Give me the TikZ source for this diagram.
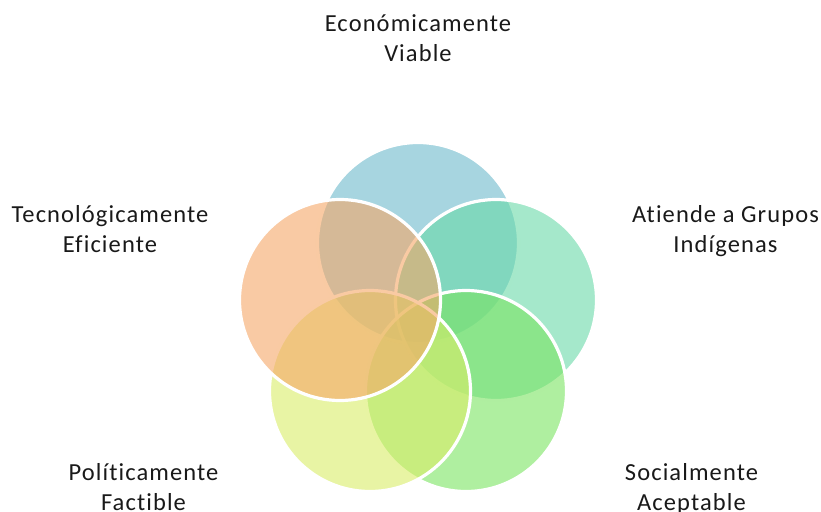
\documentclass[tikz,border=0pt]{standalone}
\usepackage{fontspec}
\setmainfont{Carlito}
\newfontfamily\lblfont[LetterSpace=4.5,Ligatures={NoCommon}]{Carlito}
\definecolor{cblue}{RGB}{108,185,203}
\definecolor{cteal}{RGB}{105,217,168}
\definecolor{cgreen}{RGB}{122,228,97}
\definecolor{cyellow}{RGB}{217,237,103}
\definecolor{corange}{RGB}{245,167,103}
\tikzset{
  venn/.style={circle, draw=white, line width=3.2pt, minimum size=201pt, inner sep=0pt, fill opacity=0.6, text opacity=1},
  lbl/.style={align=center, anchor=base, inner sep=0pt, font=\lblfont\fontsize{24.5}{29.5}\selectfont, text=black!90}
}
\begin{document}
\begin{tikzpicture}[x=1pt,y=-1pt]
\useasboundingbox (0,0) rectangle (821,511);
\node[venn, fill=cblue] (eco) at (418,243) {};
\node[venn, fill=cteal] (ind) at (496,300) {};
\node[venn, fill=cgreen] (soc) at (466,391) {};
\node[venn, fill=cyellow] (pol) at (370,391) {};
\node[venn, fill=corange] (tec) at (340,300) {};
\node[lbl] (teco) at (418,61.5) {Económicamente\\Viable};
\node[lbl] (ttec) at (110,252) {Tecnológicamente\\Eficiente};
\node[lbl] (tind) at (725.5,252) {Atiende a Grupos\\Indígenas};
\node[lbl] (tpol) at (143.5,510) {Políticamente\\Factible};
\node[lbl] (tsoc) at (691.5,510) {Socialmente\\Aceptable};
\end{tikzpicture}
\end{document}
